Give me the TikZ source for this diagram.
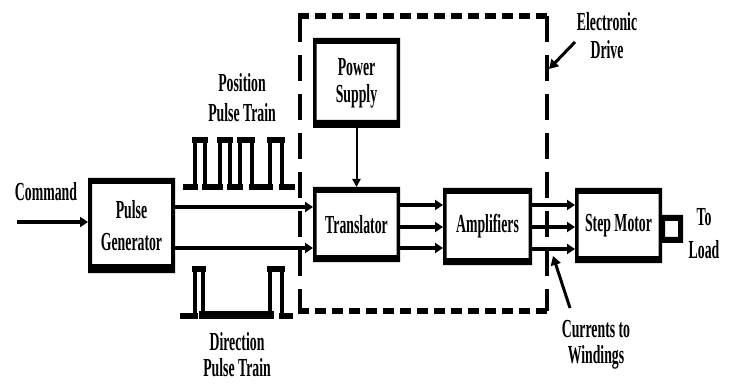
\documentclass[tikz,border=0pt]{standalone}
\usepackage{fontspec}
\newfontfamily\lblfont{Liberation Serif}[FakeStretch=0.53]
\usetikzlibrary{arrows.meta}
% frame of a box: thin sides, thick top and bottom
\newcommand\myblkframe[4]{% name, side, top, bottom
  \fill[even odd rule] (#1.north west) rectangle (#1.south east)
    ([shift={(#2,-#3)}]#1.north west) rectangle ([shift={(-#2,#4)}]#1.south east);}
\begin{document}
\begin{tikzpicture}[x=1pt,y=-1pt,
  lbl/.style={font=\lblfont\bfseries\fontsize{26}{29}\selectfont, inner sep=0pt, align=center, text=black},
  blk/.style={lbl, outer sep=0pt, inner sep=0pt},
  arr/.style={line width=4pt, -{Triangle[length=8pt,width=10pt]}},
  thinarr/.style={line width=2pt, -{Triangle[length=8pt,width=8pt]}},
  callout/.style={line width=3pt, -{Triangle[length=9pt,width=10pt]}},
  hwave/.style={line width=6pt, line cap=rect},
  vwave/.style={line width=4pt},
  hdash/.style={line width=6pt, dash pattern=on 11pt off 6pt},
  vdash/.style={line width=4pt, dash pattern=on 26pt off 13pt}
]
\useasboundingbox (0,0) rectangle (729,385);
\fill[white] (0,0) rectangle (729,385);

% blocks
\node[blk, minimum width=87pt, minimum height=95pt] (pg) at (131.5,225.5) {Pulse\\[3pt]Generator};
\node[blk, minimum width=87pt, minimum height=90pt] (ps) at (356.5,83) {Power\\[-2pt]Supply};
\node[blk, minimum width=87pt, minimum height=75pt] (tr) at (356.5,224.5) {Translator};
\node[blk, minimum width=89pt, minimum height=77pt] (amp) at (487.5,226.5) {Amplifiers};
\node[blk, minimum width=87pt, minimum height=75pt] (sm) at (618.5,225.5) {Step Motor};
\node[blk, minimum width=21pt, minimum height=28pt] (shaft) at (672.5,229) {};

\myblkframe{pg}{4pt}{6pt}{9pt}
\myblkframe{ps}{3.5pt}{6pt}{8pt}
\myblkframe{tr}{3.5pt}{6pt}{7pt}
\myblkframe{amp}{3.5pt}{6pt}{7pt}
\myblkframe{sm}{3.5pt}{6pt}{7pt}
\fill[even odd rule] (shaft.north west) rectangle (shaft.south east)
  ([shift={(3pt,-6pt)}]shaft.north west) rectangle ([shift={(-5pt,6pt)}]shaft.south east);

% electronic drive (dashed)
\node[minimum width=247pt, minimum height=295pt, inner sep=0pt, outer sep=0pt] (drive) at (423.5,163.5) {};
\draw[hdash] ([xshift=-2pt]drive.north west) -- ([xshift=2pt]drive.north east);
\draw[vdash] (drive.north west) -- (drive.south west);
\draw[vdash] (drive.north east) -- (drive.south east);
\draw[hdash] ([xshift=-2pt]drive.south west) -- ([xshift=2pt]drive.south east);

% labels
\node[lbl] (cmdl) at (46,192) {Command};
\node[lbl] (posl) at (242,98) {Position\\[1pt]Pulse Train};
\node[lbl] (dirl) at (237,355) {Direction\\[-3pt]Pulse Train};
\node[lbl] (edl) at (607,36) {Electronic\\[-1pt]Drive};
\node[lbl] (cwl) at (596,345) {Currents to\\[-3pt]Windings};
\node[lbl] (tol) at (704,234) {To\\[4pt]Load};

% helper coordinates
\coordinate (cmd) at (17,222);
\coordinate (y207) at (0,207);
\coordinate (y248) at (0,248);
\coordinate (y205) at (0,205);
\coordinate (y227) at (0,227);
\coordinate (y249) at (0,249);
\coordinate (edtip) at (549,69);
\coordinate (edtail) at (575,42);
\coordinate (cwtip) at (553,256);
\coordinate (cwtail) at (570,308);

% connectors
\draw[arr] (cmd) -- (cmd -| pg.west);
\draw[arr] (pg.east |- y207) -- (tr.west |- y207);
\draw[arr] (pg.east |- y248) -- (tr.west |- y248);
\draw[thinarr] (ps.south) -- (tr.north);
\draw[arr] (tr.east |- y205) -- (amp.west |- y205);
\draw[arr] (tr.east |- y227) -- (amp.west |- y227);
\draw[arr] (tr.east |- y248) -- (amp.west |- y248);
\draw[arr] (amp.east |- y205) -- (sm.west |- y205);
\draw[arr] (amp.east |- y227) -- (sm.west |- y227);
\draw[arr] (amp.east |- y249) -- (sm.west |- y249);
\draw[callout] (edtail) -- (edtip);
\draw[callout] (cwtail) -- (cwtip);

% position pulse train
\draw[hwave] (186,187)--(195,187) (195,140)--(205,140) (205,187)--(220,187)
  (220,140)--(230,140) (230,187)--(240,187) (240,140)--(252,140)
  (252,187)--(270,187) (270,140)--(282,140) (282,187)--(292,187);
\draw[vwave] (195,187)--(195,140) (205,140)--(205,187) (220,187)--(220,140)
  (230,140)--(230,187) (240,187)--(240,140) (252,140)--(252,187)
  (270,187)--(270,140) (282,140)--(282,187);

% direction pulse train
\draw[hwave] (183,316)--(195,316) (195,269)--(203,269) (270,269)--(282,269) (282,316)--(290,316);
\draw[line width=8pt, line cap=rect] (203,315)--(270,315);
\draw[vwave] (195,316)--(195,269) (203,269)--(203,316) (270,316)--(270,269) (282,269)--(282,316);
\end{tikzpicture}
\end{document}
